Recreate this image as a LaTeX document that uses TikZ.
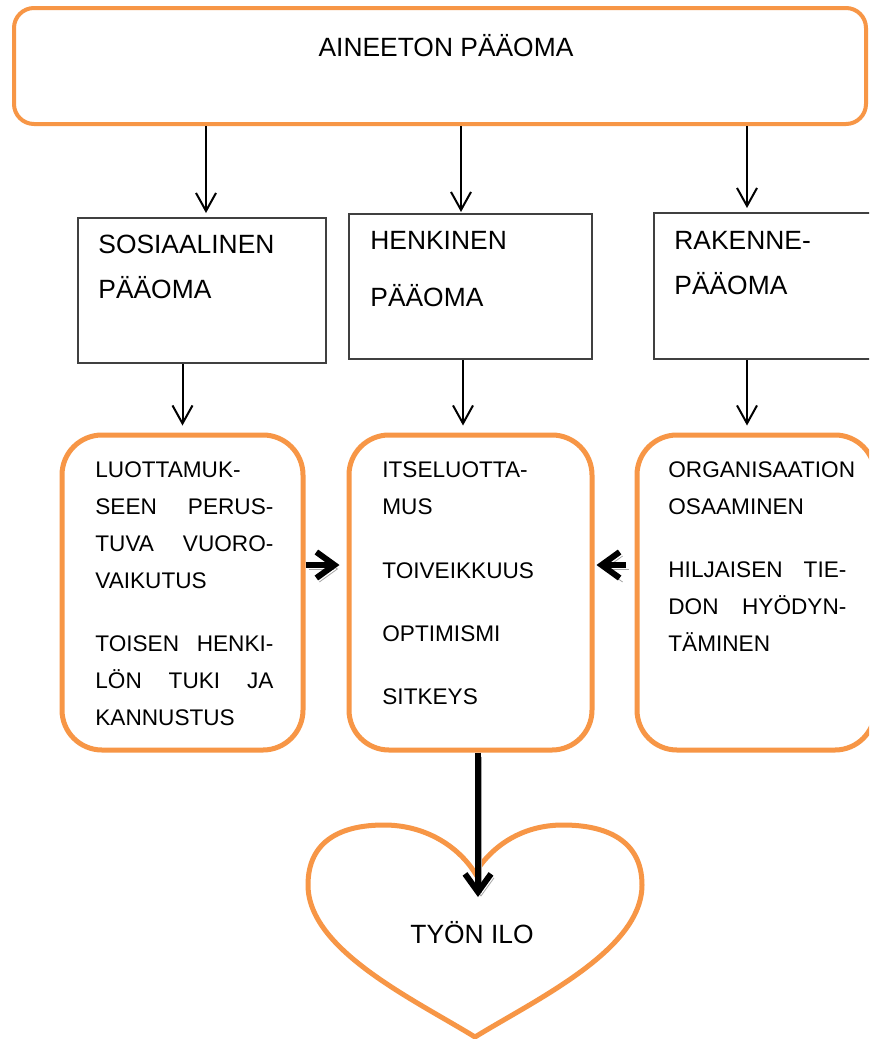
\documentclass[tikz,border=0pt]{standalone}
\usepackage{fontspec}
\setmainfont{Liberation Sans}
\usetikzlibrary{arrows.meta}
\definecolor{oranssi}{HTML}{F79646}
\begin{document}
\begin{tikzpicture}[x=0.5pt,y=-0.5pt,>={Straight Barb[length=9pt,width=10pt]},
        isoteksti/.style={font=\fontsize{13.2}{22.5}\selectfont,inner sep=0pt},
        pienteksti/.style={font=\fontsize{11.3}{18.5}\selectfont,inner sep=0pt,text width=89pt,align=left,anchor=base west},
        laatikko/.style={draw=black!75,line width=1pt,fill=white,inner sep=0pt},
        oranssilaatikko/.style={draw=oranssi,line width=2.5pt,rounded corners=20pt,fill=white,inner sep=0pt,minimum height=157.5pt},
        ohut/.style={->,line width=1pt},
        paksu/.style={-{Straight Barb[length=9pt,width=13pt]},line width=3pt,
            preaction={draw=black!35,transform canvas={shift={(1.5pt,-2pt)}}}}]
                \def\sydan{(475,1037) .. controls (415,1000) and (308,950) .. (308,885)
                        .. controls (308,840) and (342,825) .. (384,825)
                        .. controls (425,825) and (458,846) .. (475,873)
                        .. controls (492,846) and (522,825) .. (563,825)
                        .. controls (606,825) and (642,840) .. (642,885)
                        .. controls (642,950) and (535,1000) .. (475,1037) -- cycle}
                \clip (0,0) rectangle (869,1039);
                \fill[white] (0,0) rectangle (869,1039);
                %===========================================
                \node[draw=oranssi,line width=2pt,rounded corners=10pt,inner sep=0pt,
                        minimum width=426pt,minimum height=58pt] (paaoma) at (440,66) {};
                \node[isoteksti,anchor=base] (paaomateksti) at (446,56.5) {AINEETON PÄÄOMA};
                \node[laatikko,minimum width=124pt,minimum height=72.5pt] (sos) at (202,290.5) {};
                \node[laatikko,minimum width=121.5pt,minimum height=72.5pt] (hen) at (470.5,286.5) {};
                \node[laatikko,minimum width=123pt,minimum height=73pt] (rak) at (777,286) {};
                \node[isoteksti,anchor=base west,text width=100pt,align=left] (sosteksti) at (98,253.5) {SOSIAALINEN\\PÄÄOMA};
                \node[isoteksti,anchor=base west,text width=100pt,align=left] (henteksti) at (370,249.5) {HENKINEN\\[6pt]PÄÄOMA};
                \node[isoteksti,anchor=base west,text width=100pt,align=left] (rakteksti) at (674,249.5) {RAKENNE-\\PÄÄOMA};
                %===========================================
                \node[oranssilaatikko,minimum width=120.5pt] (vasen) at (182.5,592.5) {};
                \node[oranssilaatikko,minimum width=121.5pt] (keski) at (470.5,592.5) {};
                \node[oranssilaatikko,minimum width=119pt] (oikea) at (756,592.5) {};
                \node[pienteksti] (vasenteksti) at (95,477) {LUOTTAMUK-\\
                        SEEN\hfill PERUS-\\
                        TUVA\hfill VUORO-\\
                        VAIKUTUS\\[13pt]
                        TOISEN\hfill HENKI-\\
                        LÖN\hfill TUKI\hfill JA\\
                        KANNUSTUS};
                \node[pienteksti] (keskiteksti) at (382,477) {ITSELUOTTA-\\
                        MUS\\[13.5pt]
                        TOIVEIKKUUS\\[13pt]
                        OPTIMISMI\\[13pt]
                        SITKEYS};
                \node[pienteksti] (oikeateksti) at (668,477) {ORGANISAATION\\
                        OSAAMINEN\\[13pt]
                        HILJAISEN\hfill TIE-\\
                        DON\hfill HYÖDYN-\\
                        TÄMINEN};
                %===========================================
                \draw[draw=oranssi,line width=2.5pt,fill=white] \sydan;
                \node[isoteksti,anchor=base] (ilo) at (472,943.5) {TYÖN ILO};
                \coordinate (sydankarki) at (478,897);
                %===========================================
                \draw[ohut,shorten >=2pt] ([xshift=2pt]sos.north |- paaoma.south) -- ([xshift=2pt]sos.north);
                \draw[ohut,shorten >=0.5pt] ([xshift=-4.75pt]hen.north |- paaoma.south) -- ([xshift=-4.75pt]hen.north);
                \draw[ohut,shorten >=2pt] ([xshift=-15pt]rak.north |- paaoma.south) -- ([xshift=-15pt]rak.north);
                \draw[ohut,shorten >=3.5pt] (sos.south -| vasen.north) -- (vasen.north);
                \draw[ohut,shorten >=3.5pt] ([xshift=-3.75pt]keski.north |- hen.south) -- ([xshift=-3.75pt]keski.north);
                \draw[ohut,shorten >=3.5pt] ([xshift=-4.5pt]oikea.north |- rak.south) -- ([xshift=-4.5pt]oikea.north);
                \draw[paksu,shorten >=3.5pt] ([yshift=13.75pt]vasen.east) -- ([yshift=13.75pt]keski.west);
                \draw[paksu,shorten <=4.5pt,shorten >=1pt] ([yshift=13.75pt]oikea.west) -- ([yshift=13.75pt]keski.east);
                \draw[paksu] ([xshift=3.75pt]keski.south) -- (sydankarki);
        \end{tikzpicture}
\end{document}
